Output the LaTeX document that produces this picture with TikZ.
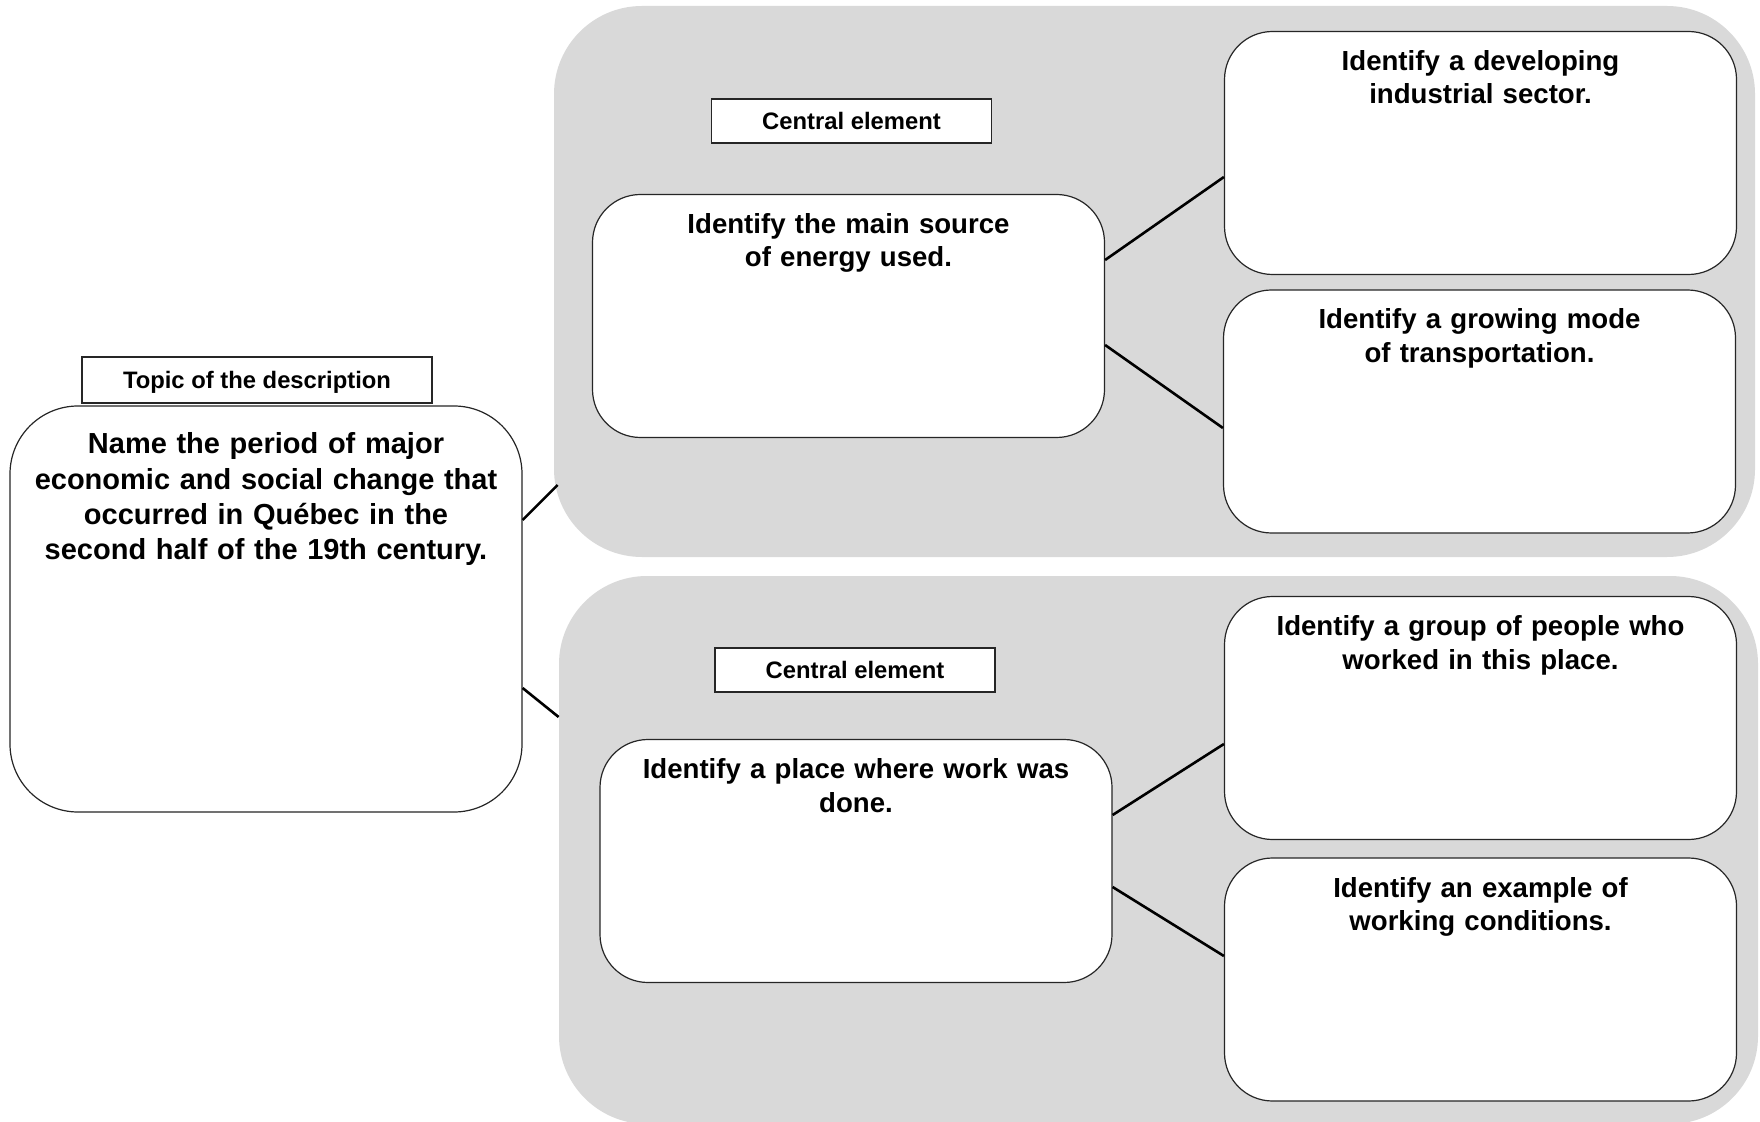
\documentclass[tikz,border=0pt]{standalone}
\usepackage{fontspec}
\setmainfont{Liberation Sans}
\definecolor{panelgray}{RGB}{217,217,217}

\begin{document}
\begin{tikzpicture}[x=0.5pt, y=-0.5pt,
    panel/.style={rectangle, fill=panelgray, rounded corners=44pt, inner sep=0pt},
    tag/.style={rectangle, draw=black!85, fill=white, line width=0.6pt, inner sep=0pt,
      text height=8.6pt, text depth=0pt, font=\fontsize{11.9}{14}\selectfont\bfseries},
    box/.style={rectangle, draw=black!85, fill=white, line width=0.6pt, rounded corners=24pt,
      inner xsep=8pt, inner ysep=0pt, text width=240pt, align=center,
      text height=19.5pt, text depth=102pt, font=\fontsize{13.8}{16.75}\selectfont\bfseries},
    topicbox/.style={box, rounded corners=34pt, text height=24pt, text depth=179pt,
      font=\fontsize{14.5}{17.6}\selectfont\bfseries},
    link/.style={line width=1.3pt}]
      \useasboundingbox (0, 0) rectangle (1760, 1122);

      \node[panel, minimum width=600.5pt, minimum height=275.5pt] at (1154.5, 281.5) (upper) {};
      \node[panel, minimum width=599.5pt, minimum height=274pt]   at (1158.5, 850)   (lower) {};

      \node[tag, minimum width=175pt, minimum height=23pt] at (257, 380)   (topictag) {Topic of the description};
      \node[tag, minimum width=140pt, minimum height=22pt] at (851.5, 121) (centtag1) {Central element};
      \node[tag, minimum width=140pt, minimum height=22pt] at (855, 670)   (centtag2) {Central element};

      \node[topicbox] at (266, 609) (topic) {Name the period of major\\economic and social change that\\occurred in Québec in the\\second half of the 19th century.};

      \node[box] at (848.5, 316)    (energy)     {Identify the main source\\of energy used.};
      \node[box] at (1480.5, 153)   (industry)   {Identify a developing\\industrial sector.};
      \node[box] at (1479.5, 411.5) (transport)  {Identify a growing mode\\of transportation.};

      \node[box] at (856, 861)      (place)      {Identify a place where work was\\done.};
      \node[box] at (1480.5, 718)   (group)      {Identify a group of people who\\worked in this place.};
      \node[box] at (1480.5, 979.5) (conditions) {Identify an example of\\working conditions.};

      \draw[link] ([yshift=44.5pt]topic.east)  -- ([xshift=2pt, yshift=-101.75pt]upper.west);
      \draw[link] ([yshift=-39.5pt]topic.east) -- ([yshift=66.5pt]lower.west);

      \draw[link] ([yshift=28pt]energy.east)    -- ([yshift=-12pt]industry.west);
      \draw[link] ([yshift=-14.5pt]energy.east) -- ([yshift=-8.25pt]transport.west);
      \draw[link] ([yshift=23pt]place.east)     -- ([yshift=-13pt]group.west);
      \draw[link] ([yshift=-13pt]place.east)    -- ([yshift=11.75pt]conditions.west);
    \end{tikzpicture}
\end{document}
